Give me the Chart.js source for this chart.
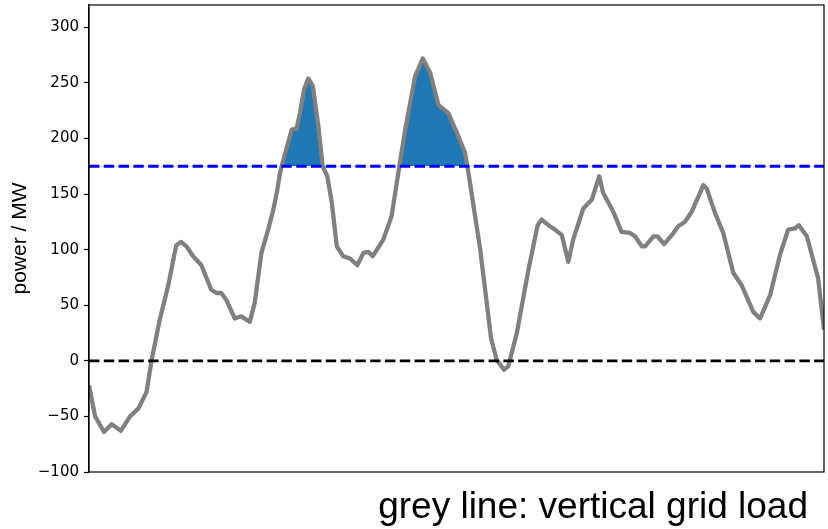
<!DOCTYPE html>
<html>
<head>
<meta charset="utf-8">
<script src="https://cdn.jsdelivr.net/npm/chart.js@4.4.1/dist/chart.umd.min.js"></script>
<style>
  html, body { margin: 0; padding: 0; background: #fff; }
  #wrap { position: relative; width: 828px; height: 529px; }
  #caption {
    position: absolute; right: 20px; top: 487px;
    font-family: "Liberation Sans", Arial, sans-serif;
    font-size: 37px; line-height: 37px; color: #000; white-space: nowrap;
  }
</style>
</head>
<body>
<div id="wrap">
  <canvas id="chart" width="828" height="529"></canvas>
  <div id="caption">grey line: vertical grid load</div>
</div>
<script>
// time of day (h) and vertical grid load (MW)
const hours = [
  0.00, 0.20, 0.49, 0.74, 1.04, 1.34, 1.61, 1.88, 2.04, 2.31,
  2.58, 2.85, 3.01, 3.18, 3.40, 3.67, 3.99, 4.16, 4.32, 4.48,
  4.76, 4.97, 5.25, 5.41, 5.63, 5.85, 6.02, 6.13, 6.24, 6.35,
  6.62, 6.78, 6.89, 7.02, 7.16, 7.31, 7.49, 7.63, 7.78, 7.93,
  8.09, 8.30, 8.52, 8.76, 8.96, 9.12, 9.26, 9.61, 9.88, 10.10,
  10.32, 10.65, 10.90, 11.14, 11.41, 11.73, 12.06, 12.28, 12.39, 12.77,
  13.13, 13.31, 13.55, 13.69, 13.97, 14.35, 14.65, 14.78, 15.05, 15.22,
  15.44, 15.65, 15.81, 16.14, 16.42, 16.66, 16.79, 17.12, 17.39, 17.67,
  17.83, 18.05, 18.16, 18.43, 18.56, 18.78, 19.03, 19.24, 19.46, 19.68,
  20.06, 20.17, 20.44, 20.71, 21.04, 21.31, 21.69, 21.91, 22.24, 22.56,
  22.83, 23.05, 23.18, 23.44, 23.81, 24.00
];
const load = [
  -22, -50, -64, -57, -63, -50, -43, -28, 0, 37,
  67, 104, 107, 103, 94, 86, 64, 61, 61, 55,
  38, 40, 35, 52, 97, 118, 136, 151, 169, 181,
  208, 209, 223, 244, 254, 247, 211, 175, 166, 142,
  103, 94, 92, 86, 97, 98, 94, 109, 130, 169,
  207, 256, 272, 259, 230, 223, 202, 187, 169, 101,
  20, 1, -8, -5, 25, 82, 122, 127, 121, 118,
  113, 89, 109, 137, 145, 166, 151, 134, 116, 115,
  112, 103, 103, 112, 112, 105, 113, 121, 125, 134,
  158, 155, 133, 115, 79, 68, 44, 38, 59, 95,
  118, 119, 122, 112, 74, 28
];
const limitLevel = 175;   // MW, upper limit
const zeroLevel = 0;      // MW
const yTickValues = [-100, -50, 0, 50, 100, 150, 200, 250, 300];
const yMin = -100;
const yMax = 320;

const loadPoints = hours.map((h, i) => ({ x: h, y: load[i] }));
const tStart = hours[0];
const tEnd = hours[hours.length - 1];
const hLine = level => [{ x: tStart, y: level }, { x: tEnd, y: level }];

// box around the plot area
const frame = {
  id: 'frame',
  afterDraw(chart) {
    const { ctx, chartArea: a } = chart;
    ctx.save();
    ctx.strokeStyle = '#000';
    ctx.lineWidth = 1.2;
    ctx.strokeRect(a.left, a.top, a.right - a.left, a.bottom - a.top);
    ctx.restore();
  }
};

new Chart(document.getElementById('chart'), {
  type: 'line',
  data: {
    datasets: [
      {
        label: 'limit',
        data: hLine(limitLevel),
        borderColor: '#0000ff',
        borderWidth: 2.8,
        borderDash: [10.4, 4.4],
        pointRadius: 0,
        fill: false,
        order: 0
      },
      {
        label: 'zero',
        data: hLine(zeroLevel),
        borderColor: '#000000',
        borderWidth: 2.8,
        borderDash: [10.4, 4.4],
        pointRadius: 0,
        fill: false,
        order: 0
      },
      {
        label: 'vertical grid load',
        data: loadPoints,
        borderColor: '#808080',
        borderWidth: 4.3,
        borderJoinStyle: 'round',
        pointRadius: 0,
        tension: 0,
        fill: { target: { value: limitLevel }, above: '#1f77b4', below: 'rgba(0,0,0,0)' },
        order: 1
      }
    ]
  },
  options: {
    responsive: false,
    animation: false,
    events: [],
    layout: { padding: { left: 0, top: 5, right: 4, bottom: 57 } },
    plugins: {
      legend: { display: false },
      tooltip: { enabled: false }
    },
    scales: {
      x: {
        type: 'linear',
        min: tStart,
        max: tEnd,
        display: false
      },
      y: {
        type: 'linear',
        min: yMin,
        max: yMax,
        afterBuildTicks: scale => { scale.ticks = yTickValues.map(v => ({ value: v })); },
        afterFit: scale => {
          scale.width = 89;
          scale.paddingTop = 0;
          scale.paddingBottom = 0;
        },
        grid: { display: true, drawOnChartArea: false, color: '#000', tickLength: 5, tickWidth: 1.2 },
        border: { display: true, color: '#000', width: 1.2 },
        ticks: {
          color: '#000',
          padding: 5,
          font: { family: 'DejaVu Sans', size: 15 },
          callback: v => (v < 0 ? '\u2212' + Math.abs(v) : String(v))
        },
        title: {
          display: true,
          text: 'power / MW',
          color: '#000',
          font: { family: 'Liberation Sans', size: 21 },
          padding: { top: 8, bottom: 0 }
        }
      }
    }
  },
  plugins: [frame]
});
</script>
</body>
</html>
